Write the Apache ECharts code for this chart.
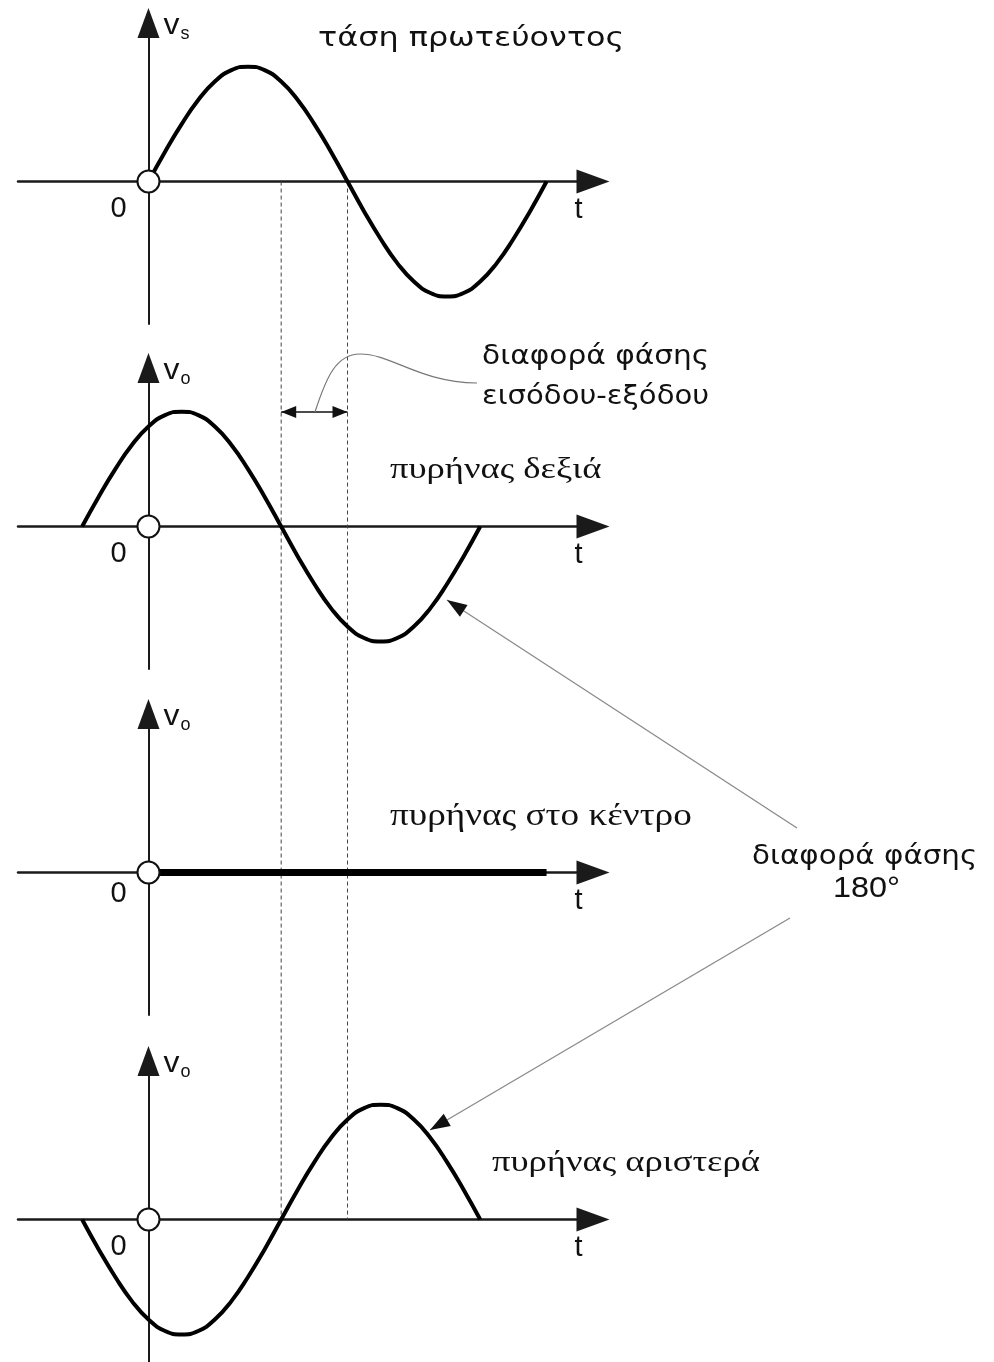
<!DOCTYPE html>
<html>
<head>
<meta charset="utf-8">
<script src="https://cdn.jsdelivr.net/npm/echarts@6/dist/echarts.min.js"></script>
<style>
html,body{margin:0;padding:0;background:#fff;}
#chart{width:994px;height:1362px;}
</style>
</head>
<body>
<div id="chart"></div>
<script>
// phase in degrees, voltages in units of the peak value
var tPrimary = [0,15,30,45,60,75,90,105,120,135,150,165,180,195,210,225,240,255,270,285,300,315,330,345,360];
var vPrimary = [0,0.26,0.5,0.71,0.87,0.97,1,0.97,0.87,0.71,0.5,0.26,0,-0.26,-0.5,-0.71,-0.87,-0.97,-1,-0.97,-0.87,-0.71,-0.5,-0.26,0];
var tOut = [-60,-45,-30,-15,0,15,30,45,60,75,90,105,120,135,150,165,180,195,210,225,240,255,270,285,300];
var vCoreRight = [0,0.26,0.5,0.71,0.87,0.97,1,0.97,0.87,0.71,0.5,0.26,0,-0.26,-0.5,-0.71,-0.87,-0.97,-1,-0.97,-0.87,-0.71,-0.5,-0.26,0];
var tCenter = [0,360];
var vCenter = [0,0];
var vCoreLeft = [0,-0.26,-0.5,-0.71,-0.87,-0.97,-1,-0.97,-0.87,-0.71,-0.5,-0.26,0,0.26,0.5,0.71,0.87,0.97,1,0.97,0.87,0.71,0.5,0.26,0];
var dashedAt = [120,180];
var subscripts = ['s','o','o','o'];

var gridTops = [23,368,714,1061];
var SANS = '"DejaVu Sans", sans-serif';
var ARIAL = '"Liberation Sans", Arial, sans-serif';
var SERIF = '"Liberation Serif", "Times New Roman", serif';

function pairs(t, v){
    return t.map(function(x, i){ return [x, v[i]]; });
}

var chart = echarts.init(document.getElementById('chart'), null, {renderer:'canvas'});

var grids = [], xAxes = [], yAxes = [], series = [];
var curves = [[tPrimary,vPrimary,4],[tOut,vCoreRight,4],[tCenter,vCenter,7],[tOut,vCoreLeft,4]];
gridTops.forEach(function(top, i){
    grids.push({left:18, width:575, top:top, height:301});
    xAxes.push({
        type:'value', gridIndex:i, min:-118, max:402,
        axisLine:{onZero:true, symbol:['none','triangle'], symbolSize:[24,33], lineStyle:{color:'#1a1a1a', width:2.5}},
        axisTick:{show:false}, axisLabel:{show:false}, splitLine:{show:false}
    });
    yAxes.push({
        type:'value', gridIndex:i, min:-1.24, max:1.38,
        axisLine:{onZero:true, symbol:['none','triangle'], symbolSize:[22,30], lineStyle:{color:'#1a1a1a', width:2}},
        axisTick:{show:false}, axisLabel:{show:false}, splitLine:{show:false}
    });
    series.push({
        type:'line', xAxisIndex:i, yAxisIndex:i, data:pairs(curves[i][0], curves[i][1]),
        smooth:curves[i][0].length > 2, showSymbol:false, silent:true, z:3,
        lineStyle:{color:'#000', width:curves[i][2]}
    });
    series.push({
        type:'scatter', xAxisIndex:i, yAxisIndex:i, data:[[0,0]], symbolSize:22, silent:true, z:5,
        itemStyle:{color:'#fff', borderColor:'#111', borderWidth:2, opacity:1}
    });
});

chart.setOption({
    animation:false,
    backgroundColor:'#fff',
    grid:grids, xAxis:xAxes, yAxis:yAxes, series:series
});

// sx stretches the glyphs sideways, the drawing uses wide faces
function text(x, y, str, size, family, align, sx){
    return {type:'text', x:x, y:y, z:10, silent:true, scaleX:sx || 1, style:{
        text:str, fontSize:size, fontFamily:family, fill:'#111',
        align:align || 'left', textAlign:align || 'left', verticalAlign:'middle', textVerticalAlign:'middle'
    }};
}
function arrowHead(tail, tip, len, half, color){
    var dx = tip[0]-tail[0], dy = tip[1]-tail[1];
    var l = Math.sqrt(dx*dx+dy*dy), ux = dx/l, uy = dy/l;
    var bx = tip[0]-ux*len, by = tip[1]-uy*len;
    return {type:'polygon', z:6, silent:true, shape:{points:[tip,[bx-uy*half, by+ux*half],[bx+uy*half, by-ux*half]]}, style:{fill:color}};
}
function pointer(tail, tip){
    return [
        {type:'line', z:6, silent:true, shape:{x1:tail[0], y1:tail[1], x2:tip[0], y2:tip[1]}, style:{stroke:'#8a8a8a', lineWidth:1.3}},
        arrowHead(tail, tip, 20, 7, '#111')
    ];
}

var g = [];
// dashed guides from the primary axis down to the last axis
dashedAt.forEach(function(t){
    var a = chart.convertToPixel({gridIndex:0}, [t,0]);
    var b = chart.convertToPixel({gridIndex:3}, [t,0]);
    g.push({type:'line', z:1, silent:true, shape:{x1:a[0], y1:a[1], x2:b[0], y2:b[1]}, style:{stroke:'#444', lineWidth:1, lineDash:[4,3]}});
});

// axis names
gridTops.forEach(function(top, i){
    var o = chart.convertToPixel({gridIndex:i}, [0,0]);
    g.push(text(o[0]+15, o[1]-156, 'v', 29, ARIAL, 'left', 1.1));
    g.push(text(o[0]+32, o[1]-148, subscripts[i], 18, ARIAL));
    g.push(text(o[0]-38, o[1]+(i === 2 ? 21 : 27), '0', 29, ARIAL));
    g.push(text(o[0]+426, o[1]+28, 't', 29, ARIAL));
});

// phase difference marker between the two dashed lines
var xl = chart.convertToPixel({gridIndex:1}, [dashedAt[0],0])[0];
var xr = chart.convertToPixel({gridIndex:1}, [dashedAt[1],0])[0];
var ya = 412;
g.push({type:'line', z:6, silent:true, shape:{x1:xl, y1:ya, x2:xr, y2:ya}, style:{stroke:'#111', lineWidth:1.5}});
g.push(arrowHead([xl+30,ya],[xl,ya],15,6,'#111'));
g.push(arrowHead([xr-30,ya],[xr,ya],15,6,'#111'));
g.push({type:'bezierCurve', z:6, silent:true, shape:{x1:315, y1:ya, cpx1:326, cpy1:378, cpx2:336, cpy2:354, x2:360, y2:354}, style:{stroke:'#777', lineWidth:1.2, fill:null}});
g.push({type:'bezierCurve', z:6, silent:true, shape:{x1:360, y1:354, cpx1:392, cpy1:354, cpx2:418, cpy2:382, x2:477, y2:383}, style:{stroke:'#777', lineWidth:1.2, fill:null}});

g = g.concat(pointer([797,828],[447,600]));
g = g.concat(pointer([790,918],[430,1130]));

g.push(text(318, 39, 'τάση πρωτεύοντος', 27, SANS, 'left', 1.18));
g.push(text(482, 357, 'διαφορά φάσης', 26, SANS, 'left', 1.14));
g.push(text(482, 397, 'εισόδου-εξόδου', 26, SANS, 'left', 1.12));
g.push(text(390, 470, 'πυρήνας δεξιά', 30, SERIF, 'left', 1.22));
g.push(text(390, 817, 'πυρήνας στο κέντρο', 31, SERIF, 'left', 1.2));
g.push(text(752, 857, 'διαφορά φάσης', 26, SANS, 'left', 1.13));
g.push(text(833, 889, '180°', 30, ARIAL, 'left', 1.08));
g.push(text(492, 1163, 'πυρήνας αριστερά', 30, SERIF, 'left', 1.22));

chart.setOption({graphic:g});
</script>
</body>
</html>
